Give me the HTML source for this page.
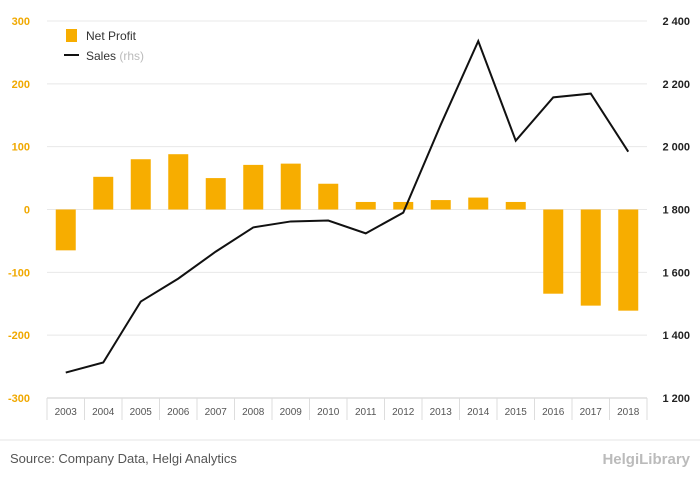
<!DOCTYPE html>
<html><head><meta charset="utf-8"><style>
body{margin:0;background:#fff;font-family:"Liberation Sans",sans-serif;}
svg text{font-family:"Liberation Sans",sans-serif;}
</style></head><body>
<svg width="700" height="483" xmlns="http://www.w3.org/2000/svg">
<g id="grid"></g>
<g id="bars"></g>
<g id="line"></g>
<g id="axes"></g>
<g>
<rect x="66" y="29" width="11" height="13" fill="#f7ad00"/>
<text x="86" y="40" font-size="12" fill="#333">Net Profit</text>
<line x1="64" y1="55" x2="79" y2="55" stroke="#111" stroke-width="2"/>
<text x="86" y="60" font-size="12" fill="#333">Sales <tspan fill="#bbb">(rhs)</tspan></text>
</g>
<line x1="0" y1="440" x2="700" y2="440" stroke="#e5e5e5"/>
<text x="10" y="463" font-size="13" fill="#555">Source: Company Data, Helgi Analytics</text>
<text x="690" y="464" font-size="15" fill="#bbb" text-anchor="end" font-weight="bold">HelgiLibrary</text>
</svg>
<script>
const categories=["2003","2004","2005","2006","2007","2008","2009","2010","2011","2012","2013","2014","2015","2016","2017","2018"];
const netProfit=[-65,52,80,88,50,71,73,41,12,12,15,19,12,-134,-153,-161];
const sales=[1281,1313,1507,1580,1666,1743,1762,1765,1724,1790,2070,2336,2019,2157,2169,1984];
const leftTicks=[300,200,100,0,-100,-200,-300];
const rightTicks=["2 400","2 200","2 000","1 800","1 600","1 400","1 200"];
const NS="http://www.w3.org/2000/svg";
const X0=47,X1=647,Y0=21,Y1=398,slot=(X1-X0)/categories.length;
const yL=v=>Y0+(300-v)/600*(Y1-Y0);
const yR=v=>Y0+(2400-v)/1200*(Y1-Y0);
const xC=i=>X0+slot*(i+0.5);
function mk(tag,attrs,parent){const e=document.createElementNS(NS,tag);for(const k in attrs)e.setAttribute(k,attrs[k]);document.getElementById(parent).appendChild(e);return e;}
leftTicks.forEach((t,i)=>{
 const y=yL(t);
 const g=mk("line",{x1:X0,x2:X1,y1:y,y2:y,stroke:"#e8e8e8"},"grid");
 
 
 const l=mk("text",{x:30,y:y+4,"font-size":11,fill:"#f0a800","text-anchor":"end","font-weight":"bold"},"axes");l.textContent=t;
 
 
 const r=mk("text",{x:690,y:y+4,"font-size":11,fill:"#222","text-anchor":"end","font-weight":"bold"},"axes");r.textContent=rightTicks[i];
 
 
});
const ax=mk("line",{x1:X0,x2:X1,y1:Y1,y2:Y1,stroke:"#ccc"},"axes");


categories.forEach((c,i)=>{
 const tk=mk("line",{x1:X0+slot*i,x2:X0+slot*i,y1:Y1,y2:Y1+22,stroke:"#ddd"},"axes");
 
 
 const t=mk("text",{x:xC(i),y:Y1+17,"font-size":10,fill:"#555","text-anchor":"middle"},"axes");t.textContent=c;
 
 
 const v=netProfit[i],y0=yL(0),y=yL(v);
 const b=mk("rect",{x:xC(i)-10,width:20,y:Math.min(y,y0),height:Math.abs(y-y0),fill:"#f7ad00"},"bars");
 
 
});
const tkEnd=mk("line",{x1:X1,x2:X1,y1:Y1,y2:Y1+22,stroke:"#ddd"},"axes");


const p=mk("polyline",{points:sales.map((v,i)=>xC(i)+","+yR(v)).join(" "),fill:"none",stroke:"#111","stroke-width":2},"line");


</script>
</body></html>
